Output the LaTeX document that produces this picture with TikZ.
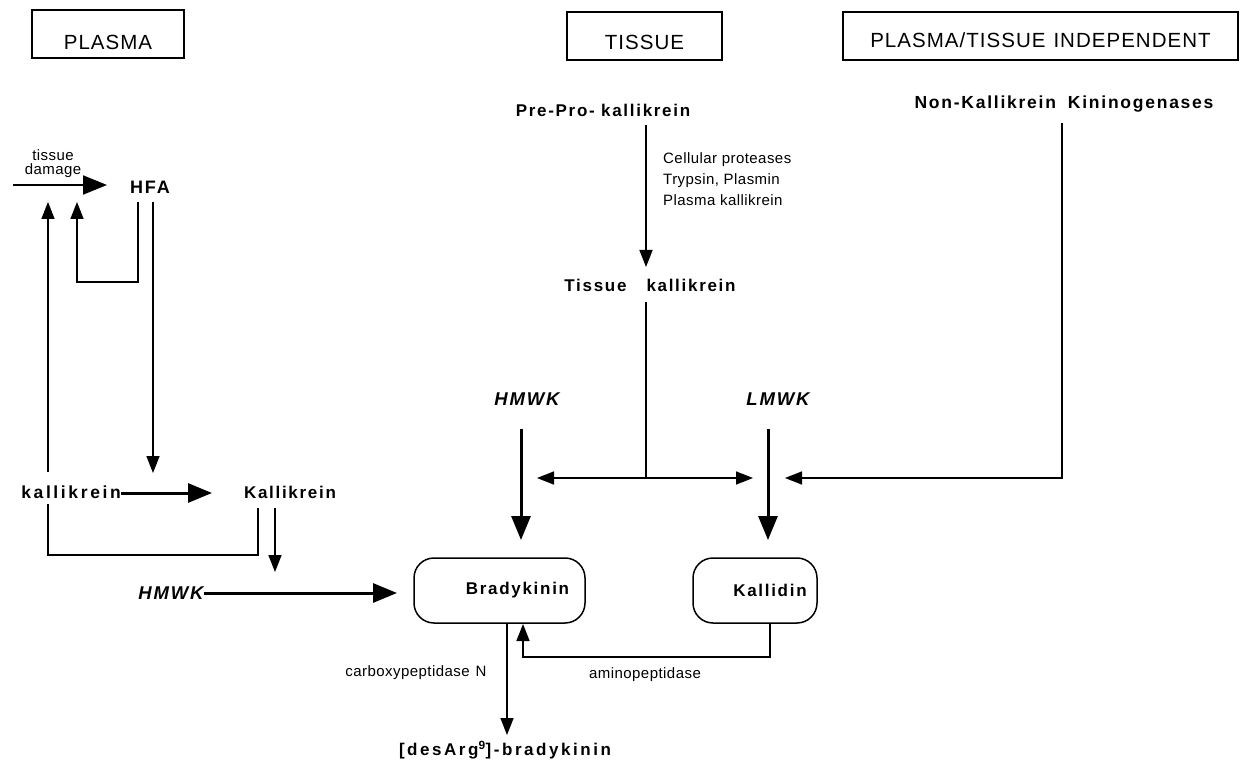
\documentclass[tikz,border=0pt]{standalone}
\usepackage{fontspec}
\setmainfont{Liberation Sans}
\newfontfamily\hdrfont[LetterSpace=5]{Liberation Sans}
\newfontfamily\lblfont[LetterSpace=10]{Liberation Sans}
\newfontfamily\widefont[LetterSpace=15]{Liberation Sans}
\newfontfamily\smlfont[LetterSpace=3]{Liberation Sans}
\usetikzlibrary{arrows.meta}
\begin{document}
\begin{tikzpicture}[x=1pt,y=-1pt,
  thinln/.style={line width=1.7pt},
  thickln/.style={line width=3pt},
  thinarr/.style={thinln,-{Triangle[length=17pt,width=13pt]}},
  thickarr/.style={thickln,-{Triangle[length=24pt,width=19pt]}},
  header/.style={draw,line width=1.5pt,minimum height=48pt,inner sep=0pt,text depth=0pt,font=\hdrfont\fontsize{20.5}{24}\selectfont},
  lbl/.style={inner sep=0pt,font=\lblfont\bfseries\fontsize{17}{20}\selectfont},
  kin/.style={inner sep=0pt,font=\lblfont\bfseries\itshape\fontsize{18.5}{22}\selectfont},
  enz/.style={inner sep=0pt,font=\smlfont\fontsize{15}{21}\selectfont},
  kbox/.style={lbl,draw,line width=1.5pt,rounded corners=20pt,minimum height=65pt}
]
\useasboundingbox (0,0) rectangle (1240,767);

% headers
\node[header,minimum width=152pt,text height=32pt] (hPlasma) at (108,34) {PLASMA};
\node[header,minimum width=155pt,text height=28pt] (hTissue) at (644.5,36) {TISSUE};
\node[header,minimum width=395pt,text height=24pt] (hIndep) at (1040.5,36) {PLASMA/TISSUE\hspace{8pt}INDEPENDENT};

% tissue column
\node[lbl] (prepro) at (603,110) {Pre-Pro- kallikrein};
\node[enz,anchor=west,align=left] (enzT) at (663,179) {Cellular proteases\\Trypsin, Plasmin\\Plasma kallikrein};
\node[lbl] (tk) at (650,285) {Tissue\hspace{20pt}kallikrein};
\node[lbl,font=\lblfont\bfseries\fontsize{17.5}{20}\selectfont] (nonK) at (1064,104) {Non-Kallikrein\hspace{12pt}Kininogenases};
\node[kin] (hmwkT) at (527,399) {HMWK};
\node[kin] (lmwk) at (778,399) {LMWK};
\node[kbox,minimum width=171pt] (brady) at (499.5,590.5) {\hspace*{36pt}Bradykinin};
\node[kbox,minimum width=124pt] (kallidin) at (755,590.5) {\hspace*{30pt}Kallidin};
\node[inner sep=0pt,font=\widefont\bfseries\fontsize{17}{20}\selectfont] (desarg) at (505,750) {[desArg\textsuperscript{9}]-bradykinin};
\node[enz] (carb) at (416,673) {carboxypeptidase\hspace{6pt}N};
\node[enz] (amino) at (645,675) {aminopeptidase};

% plasma column
\node[enz,align=center,font=\smlfont\fontsize{15}{14}\selectfont] (td) at (53,163.5) {tissue\\damage};
\node[lbl,font=\lblfont\bfseries\fontsize{18}{20}\selectfont] (hfa) at (150,187) {HFA};
\node[lbl,anchor=east,text height=26pt,text depth=6pt,font=\widefont\bfseries\fontsize{17.5}{20}\selectfont] (prek) at (121,488) {kallikrein};
\node[lbl] (kal) at (290,492) {Kallikrein};
\node[kin] (hmwkL) at (171,593) {HMWK};

% coordinates
\coordinate (tdS) at (13,185);
\coordinate (tdE) at (107,185);
\coordinate (fbTop) at (138,202);
\coordinate (fbBot) at (77,282);
\coordinate (fbTip) at (77,202);
\coordinate (hfaDn) at (153,202);
\coordinate (hfaTip) at (153,473);
\coordinate (loopS) at (258,508);
\coordinate (loopC) at (48,555);
\coordinate (loopTip) at (48,202);
\coordinate (kalDn) at (275,508);
\coordinate (kalTip) at (275,572);
\coordinate (pkTip) at (212,493);
\coordinate (hmTip) at (397,592);
\coordinate (ppS) at (646,125);
\coordinate (ppTip) at (646,267);
\coordinate (tkS) at (646,302);
\coordinate (J) at (646,478);
\coordinate (jL) at (537,478);
\coordinate (jR) at (753,478);
\coordinate (nkS) at (1062,123);
\coordinate (nkC) at (1062,478);
\coordinate (nkTip) at (785,478);
\coordinate (hTS) at (521,429);
\coordinate (hTTip) at (521,540);
\coordinate (lS) at (768,429);
\coordinate (lTip) at (768,540);
\coordinate (kdLow) at (770,657);
\coordinate (brTip) at (523,624);
\coordinate (daTip) at (507,735);

% plasma connectors
\draw[line width=2pt,-{Triangle[length=24pt,width=19pt]}] (tdS) -- (tdE);
\draw[thinarr] (fbTop) |- (fbBot) -- (fbTip);
\draw[thinarr] (hfaDn) -- (hfaTip);
\draw[thinln] (loopS) |- (loopC) -- (loopC |- prek.south);
\draw[thinarr] (loopC |- prek.north) -- (loopTip);
\draw[thickarr] (prek.east |- pkTip) -- (pkTip);
\draw[thinarr] (kalDn) -- (kalTip);
\draw[thickarr] (hmwkL.east) -- (hmwkL.east -| hmTip);

% tissue connectors
\draw[thinarr] (ppS) -- (ppTip);
\draw[thinln] (tkS) -- (J);
\draw[thinarr] (J) -- (jL);
\draw[thinarr] (J) -- (jR);
\draw[thinarr] (nkS) -- (nkC) -- (nkTip);
\draw[thickarr] (hTS) -- (hTTip);
\draw[thickarr] (lS) -- (lTip);
\draw[thinarr] (kallidin.south -| kdLow) -- (kdLow) -| (brTip);
\draw[thinarr] (brady.south -| daTip) -- (daTip);
\end{tikzpicture}
\end{document}
